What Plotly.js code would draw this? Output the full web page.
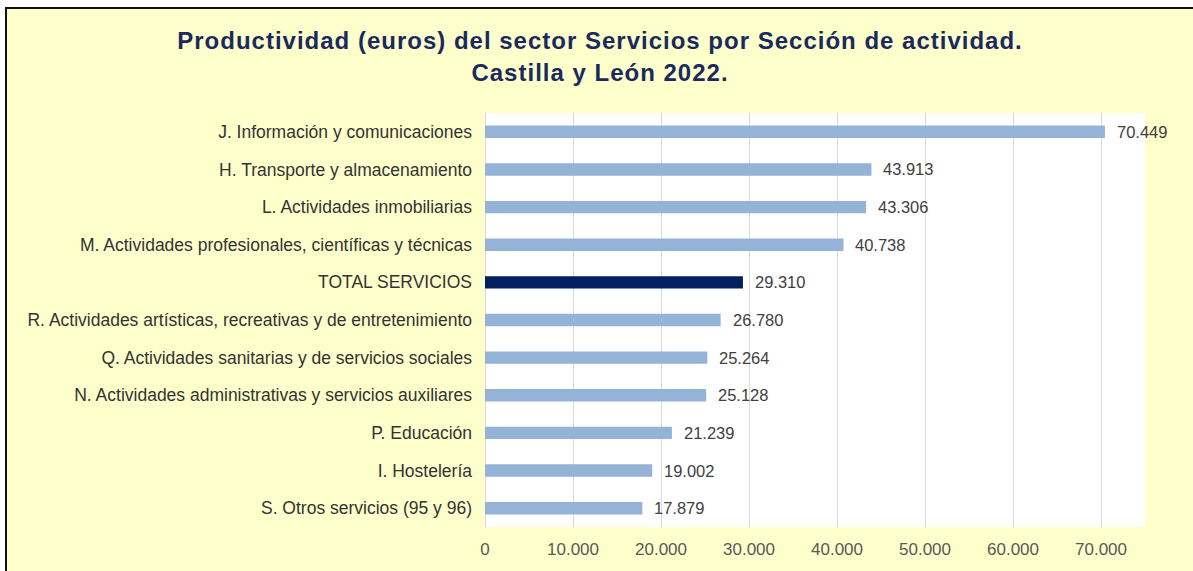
<!DOCTYPE html>
<html>
<head>
<meta charset="utf-8">
<script src="https://cdn.plot.ly/plotly-3.0.1.min.js"></script>
<style>
  html, body { margin: 0; padding: 0; background: #ffffff; width: 1193px; height: 571px; overflow: hidden; }
  #frame { position: absolute; left: 5px; top: 7px; width: 1188px; height: 564px; border-left: 2px solid #111; border-top: 2px solid #111; background: #FFFFCC; }
  #chart { width: 1186px; height: 562px; }
  #chart .gtitle { letter-spacing: 1px; }
</style>
</head>
<body>
<div id="frame"><div id="chart"></div></div>
<script>
const categories = [
  "J. Información y comunicaciones",
  "H. Transporte y almacenamiento",
  "L. Actividades inmobiliarias",
  "M. Actividades profesionales, científicas y técnicas",
  "TOTAL SERVICIOS",
  "R. Actividades artísticas, recreativas y de entretenimiento",
  "Q. Actividades sanitarias y de servicios sociales",
  "N. Actividades administrativas y servicios auxiliares",
  "P. Educación",
  "I. Hostelería",
  "S. Otros servicios (95 y 96)"
];
const productividad = [70449, 43913, 43306, 40738, 29310, 26780, 25264, 25128, 21239, 19002, 17879];
const xTickValues = [0, 10000, 20000, 30000, 40000, 50000, 60000, 70000];

const FONT = "Liberation Sans, Arial, sans-serif";
const barColors = categories.map(c => c === "TOTAL SERVICIOS" ? "#002060" : "#95B3D7");
const fmt = v => String(Math.round(v)).replace(/\B(?=(\d{3})+(?!\d))/g, ".");

const trace = {
  type: "bar",
  orientation: "h",
  y: categories,
  x: productividad,
  marker: { color: barColors },
  hoverinfo: "skip"
};

const valueLabels = categories.map((c, i) => ({
  x: productividad[i],
  y: c,
  xref: "x",
  yref: "y",
  text: fmt(productividad[i]),
  showarrow: false,
  xanchor: "left",
  yanchor: "middle",
  xshift: 10,
  font: { family: FONT, size: 16.5, color: "#404040" }
}));

const layout = {
  width: 1186,
  height: 562,
  paper_bgcolor: "#FFFFCC",
  plot_bgcolor: "#FFFFFF",
  separators: ",.",
  margin: { l: 478, r: 48, t: 104, b: 44 },
  bargap: 0.67,
  showlegend: false,
  annotations: valueLabels,
  title: {
    text: "<b>Productividad (euros) del sector Servicios por Sección de actividad.<br>Castilla y León 2022.</b>",
    font: { family: FONT, size: 24, color: "#1B2A5E" },
    x: 0.5, xanchor: "center",
    y: 0.928, yanchor: "middle", yref: "container"
  },
  xaxis: {
    range: [0, 75000],
    tickvals: xTickValues,
    tickformat: ",.0f",
    showgrid: true,
    gridcolor: "#D9D9D9",
    gridwidth: 1,
    zeroline: true,
    zerolinecolor: "#D9D9D9",
    showline: false,
    ticks: "",
    ticklabelstandoff: 10,
    tickfont: { family: FONT, size: 17, color: "#595959" },
    fixedrange: true
  },
  yaxis: {
    autorange: "reversed",
    showgrid: false,
    zeroline: false,
    showline: false,
    ticks: "",
    ticklabelstandoff: 12,
    tickfont: { family: FONT, size: 17.5, color: "#333333" },
    fixedrange: true
  }
};

Plotly.newPlot("chart", [trace], layout, { displayModeBar: false, staticPlot: true });
</script>
</body>
</html>
